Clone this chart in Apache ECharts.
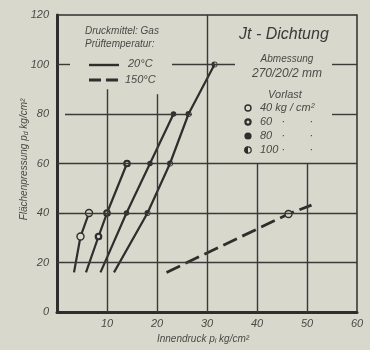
<!DOCTYPE html>
<html><head><meta charset="utf-8">
<script src="https://cdn.jsdelivr.net/npm/echarts@6/dist/echarts.min.js"></script>
<style>html,body{margin:0;padding:0;background:#d8d8cd}#c{width:370px;height:350px}</style>
</head><body><div id="c"></div>
<script>
// ---- data ----
// 20 °C, one line per Vorlast (preload)
const line40_x = [3.4, 4.7, 6.4];
const line40_y = [16, 30.5, 40];
const line60_x = [5.8, 8.3, 10.0, 14.0];
const line60_y = [16, 30.5, 40, 60];
const line80_x = [8.7, 13.9, 18.6, 23.3];
const line80_y = [16, 40, 60, 80];
const line100_x = [11.4, 18.1, 22.6, 26.3, 31.5];
const line100_y = [16, 40, 60, 80, 100];
// 150 °C
const dash_x = [21.9, 46.3, 50.9];
const dash_y = [16, 39.6, 43.2];
// axis ticks
const xTicks = [10, 20, 30, 40, 50, 60];
const yTicks = [0, 20, 40, 60, 80, 100, 120];
// visible grid segments (value units), partly hidden behind the legend boxes
const gridRowsY = [20, 40, 60, 80, 80, 100, 100, 100];
const gridRowsFrom = [0, 0, 0, 1.6, 55, 0, 23, 55];
const gridRowsTo = [60, 60, 60, 27, 60, 2.6, 35.6, 60];
const gridColsX = [10, 20, 30, 40, 50];
const gridColsFrom = [0, 0, 0, 0, 0];
const gridColsTo = [90, 88, 120, 60, 60];
// legend texts
const legendTitle = 'Jt - Dichtung';
const vorlastLabels = ['40', '60', '80', '100'];

const BG = '#d8d8cd', INK = '#2e2e2c', TXT = '#4a4a46';
const FONT = 'Liberation Sans';

const halfPath = 'path://M10,0A10,10,0,0,0,10,20ZM10,0A10,10,0,0,1,10,20L10,17.6A7.6,7.6,0,0,0,10,2.4Z';

function mk(xs, ys) {
  return xs.map((x, i) => i === 0 ? {value: [x, ys[i]], symbol: 'none'} : [x, ys[i]]);
}

const gridLines = [];
gridRowsY.forEach((y, i) => gridLines.push([{coord: [gridRowsFrom[i], y]}, {coord: [gridRowsTo[i], y]}]));
gridColsX.forEach((x, i) => gridLines.push([{coord: [x, gridColsFrom[i]]}, {coord: [x, gridColsTo[i]]}]));

const chart = echarts.init(document.getElementById('c'), null, {renderer: 'canvas'});
const solid = {color: INK, width: 2.2};
chart.setOption({
  backgroundColor: BG,
  animation: false,
  textStyle: {fontFamily: FONT, fontStyle: 'italic', color: TXT},
  grid: {left: 57, right: 13, top: 15, bottom: 35, show: true, borderColor: INK, borderWidth: 1.5, backgroundColor: 'transparent'},
  xAxis: {
    type: 'value', min: 0, max: 60, interval: 10,
    axisLine: {show: true, onZero: false, lineStyle: {color: INK, width: 3}},
    axisTick: {show: false}, splitLine: {show: false},
    axisLabel: {color: TXT, fontSize: 11, fontStyle: 'italic', margin: 6,
      formatter: v => xTicks.indexOf(v) >= 0 ? String(v) : ''},
    name: 'Innendruck p{s|i} kg/cm²', nameLocation: 'middle', nameGap: 21, nameMoveOverlap: false,
    nameTextStyle: {color: TXT, fontSize: 10, fontStyle: 'italic', padding: [0, 8, 0, 0], rich: {s: {fontSize: 7, fontStyle: 'italic', color: TXT, padding: [5, 0, 0, 0]}}}
  },
  yAxis: {
    type: 'value', min: 0, max: 120, interval: 20,
    axisLine: {show: true, onZero: false, lineStyle: {color: INK, width: 3}},
    axisTick: {show: false}, splitLine: {show: false},
    axisLabel: {color: TXT, fontSize: 11, fontStyle: 'italic', margin: 8,
      formatter: v => yTicks.indexOf(v) >= 0 ? String(v) : ''},
    name: 'Flächenpressung p{s|d} kg/cm²', nameLocation: 'middle', nameGap: 27, nameRotate: 90, nameMoveOverlap: false,
    nameTextStyle: {color: TXT, fontSize: 10, fontStyle: 'italic', padding: [0, 0, 0, 8], rich: {s: {fontSize: 7, fontStyle: 'italic', color: TXT, padding: [5, 0, 0, 0]}}}
  },
  series: [
    {type: 'line', z: 1, data: [], silent: true,
     markLine: {silent: true, symbol: ['none', 'none'], label: {show: false}, animation: false,
       lineStyle: {color: '#3a3a38', width: 1.4, type: 'solid'}, emphasis: {disabled: true}, data: gridLines}},
    {type: 'line', z: 3, data: mk(line40_x, line40_y), lineStyle: solid,
     symbol: 'circle', symbolSize: 7, itemStyle: {color: BG, borderColor: INK, borderWidth: 1.4}},
    {type: 'line', z: 3, data: mk(line60_x, line60_y), lineStyle: solid,
     symbol: 'circle', symbolSize: 5.5, itemStyle: {color: BG, borderColor: INK, borderWidth: 2.2}},
    {type: 'line', z: 3, data: mk(line80_x, line80_y), lineStyle: solid,
     symbol: 'circle', symbolSize: 5.5, itemStyle: {color: INK, borderColor: INK, borderWidth: 0}},
    {type: 'line', z: 3, data: mk(line100_x, line100_y), lineStyle: solid,
     symbol: halfPath, symbolKeepAspect: true, symbolSize: 6, itemStyle: {color: INK}},
    {type: 'line', z: 3, data: dash_x.map((x, i) => (i === 1 ? [x, dash_y[i]] : {value: [x, dash_y[i]], symbol: 'none'})),
     lineStyle: {color: INK, width: 2.8, type: [15, 6]},
     symbol: 'circle', symbolSize: 7, itemStyle: {color: BG, borderColor: INK, borderWidth: 1.4}}
  ],
  graphic: [
    // legend 1
    {type: 'text', left: 85, top: 26, style: {text: 'Druckmittel: Gas', font: 'italic 10px "Liberation Sans"', fill: TXT}},
    {type: 'text', left: 85, top: 39, style: {text: 'Prüftemperatur:', font: 'italic 10px "Liberation Sans"', fill: TXT}},
    {type: 'line', shape: {x1: 89, y1: 65, x2: 119, y2: 65}, style: {stroke: INK, lineWidth: 2.4}},
    {type: 'text', left: 128, top: 58, style: {text: '20°C', font: 'italic 11px "Liberation Sans"', fill: TXT}},
    {type: 'line', shape: {x1: 89, y1: 80, x2: 119, y2: 80}, style: {stroke: INK, lineWidth: 2.8, lineDash: [12, 5]}},
    {type: 'text', left: 125, top: 74, style: {text: '150°C', font: 'italic 11px "Liberation Sans"', fill: TXT}},
    // legend 2
    {type: 'text', left: 239, top: 27, style: {text: legendTitle, font: 'italic 16px "Liberation Sans"', fill: '#3a3a38'}},
    {type: 'text', x: 287, y: 59, style: {text: 'Abmessung', font: 'italic 10px "Liberation Sans"', fill: TXT, align: 'center', verticalAlign: 'middle'}},
    {type: 'text', x: 287, y: 74, style: {text: '270/20/2 mm', font: 'italic 12px "Liberation Sans"', fill: TXT, align: 'center', verticalAlign: 'middle'}},
    {type: 'text', x: 285, y: 95, style: {text: 'Vorlast', font: 'italic 11px "Liberation Sans"', fill: TXT, align: 'center', verticalAlign: 'middle'}},
    {type: 'circle', shape: {cx: 248, cy: 108, r: 3}, style: {fill: BG, stroke: INK, lineWidth: 1.4}},
    {type: 'circle', shape: {cx: 248, cy: 122, r: 2.6}, style: {fill: BG, stroke: INK, lineWidth: 2.2}},
    {type: 'circle', shape: {cx: 248, cy: 136, r: 3.6}, style: {fill: INK}},
    {type: 'circle', shape: {cx: 248, cy: 150, r: 3.2}, style: {fill: 'none', stroke: INK, lineWidth: 1.2}},
    {type: 'sector', shape: {cx: 248, cy: 150, r: 3.6, r0: 0, startAngle: Math.PI / 2, endAngle: Math.PI * 1.5}, style: {fill: INK}},
    {type: 'text', left: 260, top: 102, style: {text: vorlastLabels[0] + ' kg / cm²', font: 'italic 11px "Liberation Sans"', fill: TXT}},
    {type: 'text', left: 260, top: 116, style: {text: vorlastLabels[1] + '   ·        ·', font: 'italic 11px "Liberation Sans"', fill: TXT}},
    {type: 'text', left: 260, top: 130, style: {text: vorlastLabels[2] + '   ·        ·', font: 'italic 11px "Liberation Sans"', fill: TXT}},
    {type: 'text', left: 260, top: 144, style: {text: vorlastLabels[3] + ' ·        ·', font: 'italic 11px "Liberation Sans"', fill: TXT}}
  ]
});
</script>
</body></html>
